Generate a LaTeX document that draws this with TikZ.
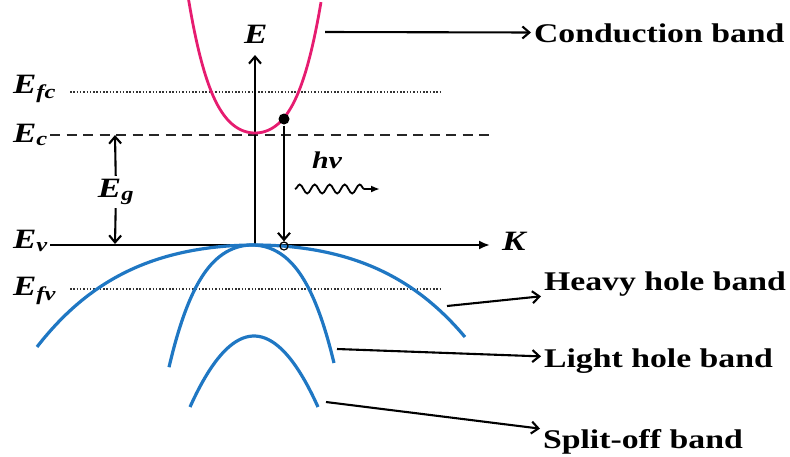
\documentclass[tikz,border=0pt]{standalone}
\usepackage{fontspec}
\setmainfont{Liberation Serif}[FakeStretch=1.25]
\usetikzlibrary{arrows.meta,decorations.pathmorphing}
\definecolor{cbandcol}{RGB}{230,28,112}
\definecolor{vbandcol}{RGB}{31,119,195}
\begin{document}
\begin{tikzpicture}[x=1pt,y=-1pt,line width=2.1pt,
  >={Straight Barb[length=7pt,width=12pt]},
  font=\fontsize{28}{32}\selectfont\bfseries\itshape,
  lvl/.style={anchor=base west,inner sep=0pt},
  tag/.style={anchor=base west,inner sep=2pt,font=\fontsize{27}{30}\selectfont\bfseries},
  band/.style={line width=3.2pt,vbandcol},
  dotline/.style={line width=2pt,dash pattern=on 1.5pt off 1.8pt,black!80},
  dashline/.style={dash pattern=on 10pt off 6.5pt,black!85}]
  \useasboundingbox (0,0) rectangle (790,456);
  % energy levels
  \foreach \nm/\y in {fc/93,c/142,v/248,fv/295}
    \node[lvl] (E\nm) at (12,\y) {E\textsubscript{\nm}};
  \coordinate (O) at (255,245);
  \coordinate (Etip) at (255,55);
  \coordinate (Kstart) at (50,245);
  \coordinate (Ktip) at (490,245);
  \draw[dotline] (70,92) -- (442,92);
  \draw[dotline] (70,289) -- (442,289);
  \draw[dashline] (50,135) -- (492,135);
  \draw[-{Latex[length=11pt,width=9pt]}] (Kstart) -- (Ktip);
  \draw[->] (O) -- (Etip);
  \node[lvl] (Elab) at (243,43) {E};
  \node[lvl] (Klab) at (501,250) {K};
  % band gap
  \coordinate (egtop) at (115,135);
  \coordinate (egbot) at (115,244);
  \node[inner sep=2pt] (Eg) at (116,192) {E\textsubscript{g}};
  \draw[->] (Eg) -- (egtop);
  \draw[->] (Eg) -- (egbot);
  % bands
  \draw[cbandcol,line width=2.8pt] plot[domain=-6.7:6.6,samples=60,smooth]
    ({255+10*\x},{133-1.519*\x*\x-0.0341*\x*\x*\x*\x});
  \draw[band] plot[domain=-2.18:2.1,samples=60,smooth]
    ({255+100*\x},{245+13.41*\x*\x+1.69*\x*\x*\x*\x});
  \draw[band] plot[domain=-8.3:8.2,samples=50,smooth]
    ({252+10*\x},{245+0.979*\x*\x+0.01154*\x*\x*\x*\x});
  \draw[band] plot[domain=-6.4:6.4,samples=40,smooth]
    ({254+10*\x},{336+1.733*\x*\x});
  % transition
  \node[circle,fill,inner sep=0pt,minimum size=11pt] (el) at (284,119) {};
  \node[circle,draw,inner sep=0pt,minimum size=8pt,line width=1.2pt] (ho) at (284,246) {};
  \draw[->] (el) -- (ho);
  \node[lvl,font=\fontsize{24}{28}\selectfont\bfseries\itshape] (hnu) at (311,168) {hν};
  \coordinate (w0) at (295,189);
  \coordinate (w1) at (380,189);
  \draw[-{Latex[length=9pt,width=7pt]},line width=1.8pt,decorate,
    decoration={snake,amplitude=4.5pt,segment length=15pt,post length=12pt}] (w0) -- (w1);
  % band names
  \node[tag] (cb) at (531,42) {Conduction band};
  \node[tag] (hh) at (541,290) {Heavy hole band};
  \node[tag] (lh) at (541,367) {Light hole band};
  \node[tag] (so) at (540,448) {Split-off band};
  \coordinate (cb0) at (325,32);
  \coordinate (hh0) at (447,306);
  \coordinate (lh0) at (337,349);
  \coordinate (so0) at (326,402);
  \foreach \b in {cb,hh,lh,so}
    \draw[->] (\b0) -- (\b);
\end{tikzpicture}
\end{document}
